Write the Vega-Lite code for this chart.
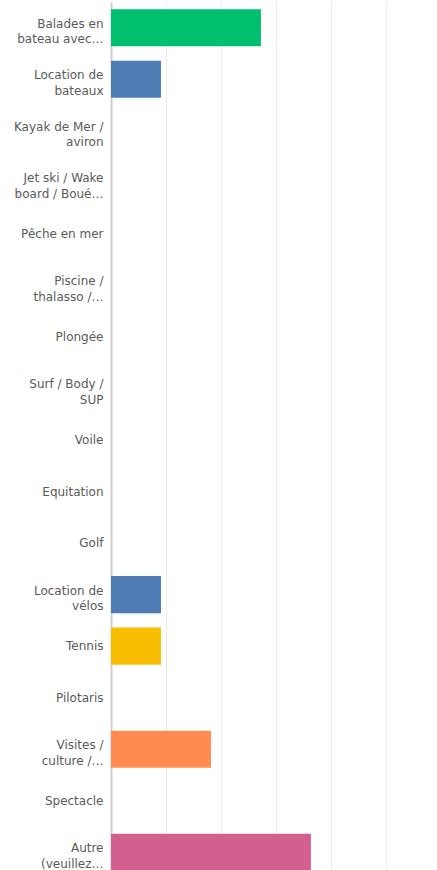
{
  "$schema": "https://vega.github.io/schema/vega-lite/v6.json",
  "autosize": "none",
  "padding": {"left": 111, "top": 2, "right": 0, "bottom": 0},
  "width": 326,
  "height": 876,
  "background": "white",
  "data": {
    "values": [
      {"label": "Balades en|bateau avec…", "value": 27.27, "color": "#00BF6F"},
      {"label": "Location de|bateaux", "value": 9.09, "color": "#507CB6"},
      {"label": "Kayak de Mer /|aviron", "value": 0, "color": "#F9BE00"},
      {"label": "Jet ski / Wake|board / Boué…", "value": 0, "color": "#FF8B4F"},
      {"label": "Pêche en mer", "value": 0, "color": "#D25F90"},
      {"label": "Piscine /|thalasso /…", "value": 0, "color": "#00BF6F"},
      {"label": "Plongée", "value": 0, "color": "#507CB6"},
      {"label": "Surf / Body /|SUP", "value": 0, "color": "#F9BE00"},
      {"label": "Voile", "value": 0, "color": "#FF8B4F"},
      {"label": "Equitation", "value": 0, "color": "#D25F90"},
      {"label": "Golf", "value": 0, "color": "#00BF6F"},
      {"label": "Location de|vélos", "value": 9.09, "color": "#507CB6"},
      {"label": "Tennis", "value": 9.09, "color": "#F9BE00"},
      {"label": "Pilotaris", "value": 0, "color": "#FF8B4F"},
      {"label": "Visites /|culture /…", "value": 18.18, "color": "#FF8B4F"},
      {"label": "Spectacle", "value": 0, "color": "#507CB6"},
      {"label": "Autre|(veuillez…", "value": 36.36, "color": "#D25F90"}
    ]
  },
  "mark": {"type": "bar"},
  "encoding": {
    "y": {
      "field": "label",
      "type": "nominal",
      "sort": null,
      "scale": {"paddingInner": 0.28, "paddingOuter": 0.14},
      "axis": {
        "title": null,
        "ticks": false,
        "domain": true,
        "domainColor": "#d0d0d0",
        "domainWidth": 2,
        "labelExpr": "split(datum.label, '|')",
        "labelFont": "DejaVu Sans",
        "labelFontSize": 12,
        "labelColor": "#5a5a5a",
        "labelLineHeight": 15.5,
        "labelPadding": 8,
        "labelLimit": 120,
        "labelOffset": {"condition": {"test": "indexof(datum.value, '|') >= 0", "value": -4}, "value": 0}
      }
    },
    "x": {
      "field": "value",
      "type": "quantitative",
      "scale": {"domain": [0, 59.3], "nice": false},
      "axis": {
        "title": null,
        "values": [0, 10, 20, 30, 40, 50],
        "labels": false,
        "ticks": false,
        "domain": false,
        "grid": true,
        "gridColor": "#ebebeb",
        "gridWidth": 1
      }
    },
    "color": {"field": "color", "type": "nominal", "scale": null, "legend": null}
  },
  "config": {"view": {"stroke": null}}
}
